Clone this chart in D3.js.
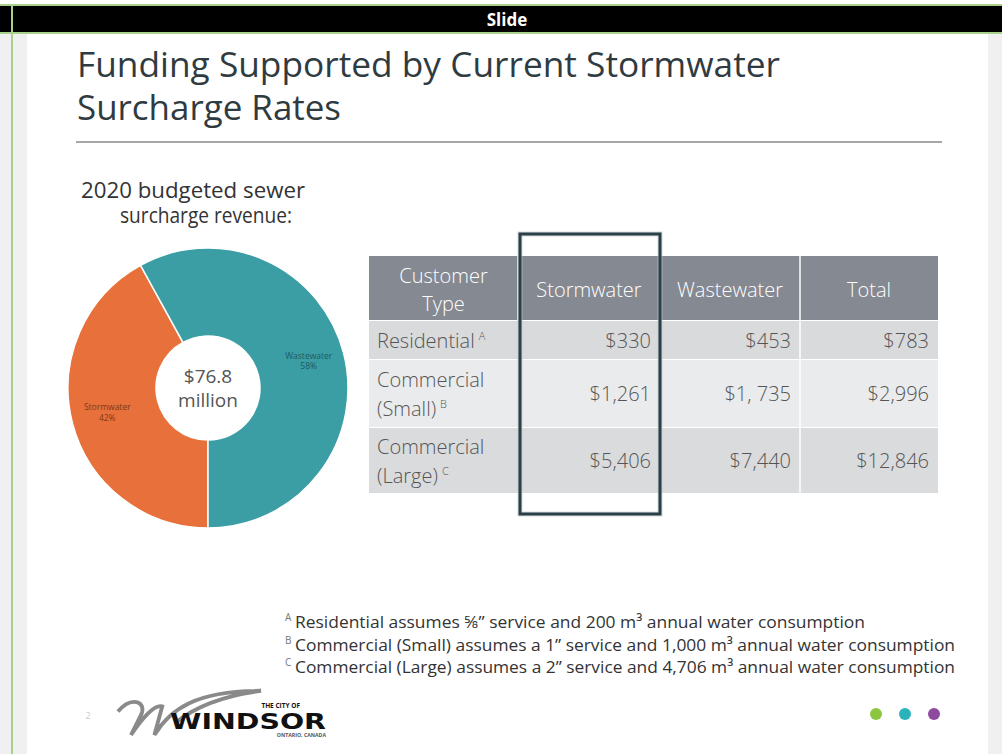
<!DOCTYPE html>
<head>
<meta charset="utf-8">
</head>
<style>
body { margin: 0; background: #fff; }
svg text { font-family: "Open Sans", "Noto Sans", sans-serif; }
</style>
<body>
<svg id="slide" width="1002" height="754"></svg>

<script src="https://d3js.org/d3.v7.min.js"></script>
<script>

// chart data
var pieLabels = ["Stormwater", "Wastewater"];
var pieShares = [42, 58];
var pieColors = ["#e8703a", "#3b9ea4"];
var pieTotal = ["$76.8", "million"];

var columns = ["Customer Type", "Stormwater", "Wastewater", "Total"];
var customerTypes = [["Residential"], ["Commercial", "(Small)"], ["Commercial", "(Large)"]];
var footMarks = ["A", "B", "C"];
var stormwater = ["$330", "$1,261", "$5,406"];
var wastewater = ["$453", "$1, 735", "$7,440"];
var totals = ["$783", "$2,996", "$12,846"];
var footnotes = [
  "Residential assumes \u215D\u201D service and 200 m\u00B3 annual water consumption",
  "Commercial (Small) assumes a 1\u201D service and 1,000 m\u00B3 annual water consumption",
  "Commercial (Large) assumes a 2\u201D service and 4,706 m\u00B3 annual water consumption"
];
var footWidths = [570, 660, 660];
var dotColors = ["#8cc63f", "#2bb3bd", "#8f4aa0"];

var svg = d3.select("#slide");

// --- frame around the slide ---
svg.append("rect").attr("x", 0).attr("y", 34).attr("width", 27).attr("height", 720).attr("fill", "#f0f0f0");
svg.append("rect").attr("x", 988).attr("y", 34).attr("width", 14).attr("height", 720).attr("fill", "#f0f0f0");
svg.append("rect").attr("x", 0).attr("y", 4).attr("width", 1002).attr("height", 30).attr("fill", "#a9d18e");
svg.append("rect").attr("x", 0).attr("y", 6).attr("width", 1002).attr("height", 26).attr("fill", "#000");
svg.append("rect").attr("x", 11).attr("y", 4).attr("width", 2).attr("height", 750).attr("fill", "#a9d18e");
svg.append("text").attr("x", 507).attr("y", 26).attr("text-anchor", "middle")
  .attr("fill", "#fff").style("font-size", "17px").style("font-weight", "bold").text("Slide");

// --- title ---
var title = svg.append("g").attr("fill", "#2f3b41").style("font-size", "35px");
title.append("text").attr("x", 77).attr("y", 77).attr("textLength", 703).attr("lengthAdjust", "spacingAndGlyphs")
  .text("Funding Supported by Current Stormwater");
title.append("text").attr("x", 77).attr("y", 120).attr("textLength", 264).attr("lengthAdjust", "spacingAndGlyphs")
  .text("Surcharge Rates");
svg.append("line").attr("x1", 76).attr("x2", 942).attr("y1", 142).attr("y2", 142)
  .attr("stroke", "#8a8a8a").attr("stroke-width", 1.5);

// --- donut ---
var pg = svg.append("g").attr("transform", "translate(208,388)");
svg.append("text").attr("x", 81).attr("y", 198)
  .attr("fill", "#333").style("font-size", "21px")
  .attr("textLength", 224).attr("lengthAdjust", "spacingAndGlyphs").text("2020 budgeted sewer");
svg.append("text").attr("x", 120).attr("y", 223)
  .attr("fill", "#333").style("font-size", "21px")
  .attr("textLength", 172).attr("lengthAdjust", "spacingAndGlyphs").text("surcharge revenue:");

var pie = d3.pie().sort(null).startAngle(Math.PI).endAngle(3 * Math.PI);
var arcs = pie(pieShares);
var arc = d3.arc().innerRadius(52).outerRadius(140);
var labelArc = d3.arc().innerRadius(104).outerRadius(104);

pg.selectAll("path").data(arcs).enter().append("path")
  .attr("d", arc)
  .attr("fill", function(d, i) { return pieColors[i]; })
  .attr("stroke", "#fff").attr("stroke-width", 1.5);

var lab = pg.selectAll(".plabel").data(arcs).enter().append("text")
  .attr("class", "plabel")
  .attr("text-anchor", "middle")
  .attr("transform", function(d) { return "translate(" + labelArc.centroid(d) + ")"; })
  .attr("fill", function(d, i) { return i == 0 ? "#7a3a1c" : "#1d5a62"; })
  .style("font-size", "8.5px");
lab.append("tspan").attr("x", 0).attr("dy", "-0.4em").text(function(d, i) { return pieLabels[i]; });
lab.append("tspan").attr("x", 0).attr("dy", "1.2em").text(function(d, i) { return pieShares[i] + "%"; });

pg.append("text").attr("text-anchor", "middle").attr("y", -5).attr("fill", "#555")
  .style("font-size", "19px").text(pieTotal[0]);
pg.append("text").attr("text-anchor", "middle").attr("y", 19).attr("fill", "#555")
  .style("font-size", "19px").text(pieTotal[1]);

// --- table ---
var colX = d3.scaleOrdinal().domain(columns).range([369, 518, 660, 800]);
var colW = d3.scaleOrdinal().domain(columns).range([149, 142, 140, 138]);
var rowY = d3.scaleOrdinal().domain([0, 1, 2]).range([321, 360, 428]);
var rowH = d3.scaleOrdinal().domain([0, 1, 2]).range([39, 68, 66]);
var rowFill = ["#d9dadc", "#eaebec", "#dadbdd"];

var tg = svg.append("g");
// header
tg.selectAll(".hcell").data(columns).enter().append("rect")
  .attr("x", function(d) { return colX(d); })
  .attr("y", 256).attr("width", function(d) { return colW(d); }).attr("height", 64)
  .attr("fill", "#858991");
tg.selectAll(".hsep").data(columns.slice(1)).enter().append("line")
  .attr("x1", function(d) { return colX(d); }).attr("x2", function(d) { return colX(d); })
  .attr("y1", 256).attr("y2", 320).attr("stroke", "#fff").attr("stroke-width", 1.5);

tg.selectAll(".htext").data(columns).enter().append("text")
  .attr("x", function(d) { return colX(d) + colW(d) / 2; })
  .attr("y", 297).attr("text-anchor", "middle").attr("fill", "#fff")
  .style("font-size", "20px").style("font-weight", "300")
  .each(function(d) {
    var t = d3.select(this);
    if (d == "Customer Type") {
      t.append("tspan").attr("x", colX(d) + colW(d) / 2).attr("y", 283).text("Customer");
      t.append("tspan").attr("x", colX(d) + colW(d) / 2).attr("y", 311).text("Type");
    } else {
      t.text(d);
    }
  });

// body rows
var rows = tg.selectAll(".row").data(customerTypes).enter().append("g");
rows.append("rect")
  .attr("x", 369).attr("width", 569)
  .attr("y", function(d, i) { return rowY(i); })
  .attr("height", function(d, i) { return rowH(i); })
  .attr("fill", function(d, i) { return rowFill[i]; });
rows.append("line")
  .attr("x1", 369).attr("x2", 938)
  .attr("y1", function(d, i) { return rowY(i) + rowH(i); })
  .attr("y2", function(d, i) { return rowY(i) + rowH(i); })
  .attr("stroke", "#fff").attr("stroke-width", 2);
tg.append("line").attr("x1", 800).attr("x2", 800).attr("y1", 320).attr("y2", 494)
  .attr("stroke", "#fff").attr("stroke-width", 1.5);

rows.each(function(d, i) {
  var g = d3.select(this);
  var mid = rowY(i) + rowH(i) / 2;
  var first = d.length == 1 ? mid + 7 : mid - 7;
  d.forEach(function(line, j) {
    var t = g.append("text").attr("x", 377).attr("y", first + j * 29)
      .attr("fill", "#555").style("font-size", "20px").style("font-weight", "300").text(line);
    if (j == d.length - 1) {
      t.append("tspan").attr("dx", 4).attr("dy", -8).style("font-size", "11px").text(footMarks[i]);
    }
  });
  [stormwater, wastewater, totals].forEach(function(vals, k) {
    var c = columns[k + 1];
    g.append("text").attr("x", colX(c) + colW(c) - 9).attr("y", mid + 7)
      .attr("text-anchor", "end").attr("fill", "#555").style("font-size", "20px").style("font-weight", "300")
      .text(vals[i]);
  });
});

// highlight box around Stormwater
tg.append("rect").attr("x", 520).attr("y", 234).attr("width", 140).attr("height", 280)
  .attr("fill", "none").attr("stroke", "#b9c4c8").attr("stroke-width", 5).attr("opacity", 0.6);
tg.append("rect").attr("x", 520).attr("y", 234).attr("width", 140).attr("height", 280)
  .attr("fill", "none").attr("stroke", "#2b3f48").attr("stroke-width", 3);

// --- footnotes ---
var fn = svg.append("g").style("font-size", "17px").attr("fill", "#333");
footnotes.forEach(function(f, i) {
  fn.append("text").attr("x", 285).attr("y", 621 + i * 22.5)
    .style("font-size", "10px").attr("fill", "#777").text(footMarks[i]);
  fn.append("text").attr("x", 295).attr("y", 628 + i * 22.5)
    .attr("textLength", footWidths[i]).attr("lengthAdjust", "spacingAndGlyphs").text(f);
});

// --- footer: page number, logo, dots ---
svg.append("text").attr("x", 88).attr("y", 719).attr("text-anchor", "middle")
  .attr("fill", "#ccc").style("font-size", "9px").text("2");

var logo = svg.append("g").attr("transform", "translate(118,696) scale(1.3)");
logo.append("path").attr("d", "M0,12 C10,0 22,4 18,14 L10,30 C18,18 28,6 34,8 L28,30 C40,10 60,-4 110,-4 C80,0 60,8 45,20")
  .attr("fill", "none").attr("stroke", "#8a8a8a").attr("stroke-width", 3);
logo.append("text").attr("x", 40).attr("y", 25).attr("fill", "#111")
  .style("font-size", "16px").style("font-weight", "bold").style("font-family", "'DejaVu Sans', sans-serif")
  .attr("textLength", 120).attr("lengthAdjust", "spacingAndGlyphs").text("WINDSOR");
logo.append("text").attr("x", 140).attr("y", 9).attr("fill", "#111").attr("text-anchor", "end")
  .style("font-size", "5px").style("font-weight", "bold").text("THE CITY OF");
logo.append("text").attr("x", 160).attr("y", 31.5).attr("fill", "#555").attr("text-anchor", "end")
  .style("font-size", "4px").style("font-weight", "bold").text("ONTARIO, CANADA");

svg.selectAll(".dot").data(dotColors).enter().append("circle")
  .attr("cx", function(d, i) { return 876 + i * 29; })
  .attr("cy", 714).attr("r", 6)
  .attr("fill", function(d) { return d; });

</script>
</body>
